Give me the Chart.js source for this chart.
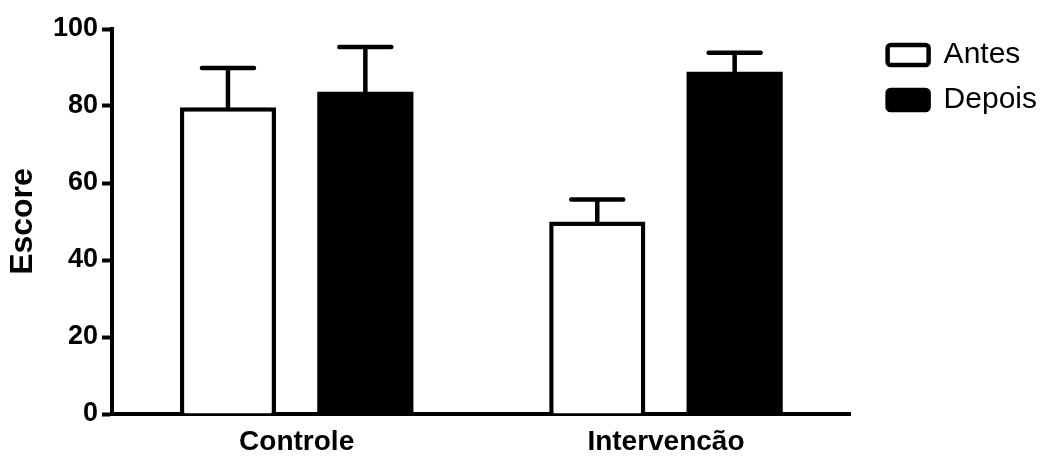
<!DOCTYPE html>
<html>
<head>
<meta charset="utf-8">
<script src="https://cdn.jsdelivr.net/npm/chart.js@4.4.1/dist/chart.umd.min.js"></script>
<style>
  html, body { margin: 0; padding: 0; background: #fff; }
  #wrap { width: 1055px; height: 456px; }
</style>
</head>
<body>
<div id="wrap"><canvas id="chart"></canvas></div>
<script>
const categories = ['Controle', 'Intervencão']
const antes = [79.7, 50]
const antesErr = [10.2, 5.7]
const depois = [83.7, 88.9]
const depoisErr = [11.6, 4.9]
const yTicks = [0, 20, 40, 60, 80, 100]

const FONT = '"Liberation Sans", Arial, sans-serif'

// upper error bars with caps
const errorBars = {
  id: 'errorBars',
  afterDatasetsDraw(chart) {
    const ctx = chart.ctx
    const y = chart.scales.y
    ctx.save()
    ctx.strokeStyle = '#000'
    ctx.lineWidth = 4.5
    ctx.lineCap = 'round'
    chart.data.datasets.forEach((ds, di) => {
      const meta = chart.getDatasetMeta(di)
      meta.data.forEach((bar, i) => {
        const top = y.getPixelForValue(ds.data[i] + ds.errors[i])
        ctx.beginPath()
        ctx.moveTo(bar.x, bar.y)
        ctx.lineTo(bar.x, top)
        ctx.moveTo(bar.x - 26, top)
        ctx.lineTo(bar.x + 26, top)
        ctx.stroke()
      })
    })
    ctx.restore()
  }
}

// nudge legend away from the plot
const legendShift = {
  id: 'legendShift',
  afterLayout(chart) {
    const lg = chart.legend
    const dx = chart.chartArea.right + 22 - lg.left
    lg.left += dx
    lg.right += dx
    lg.top -= 4
  }
}

new Chart(document.getElementById('chart'), {
  type: 'bar',
  data: {
    labels: categories,
    datasets: [
      { label: 'Antes', data: antes, errors: antesErr, backgroundColor: '#fff', borderColor: '#000', borderWidth: 4.5 },
      { label: 'Depois', data: depois, errors: depoisErr, backgroundColor: '#000', borderColor: '#000', borderWidth: 0 }
    ]
  },
  options: {
    responsive: true,
    maintainAspectRatio: false,
    animation: false,
    categoryPercentage: 0.744,
    barPercentage: 0.70,
    layout: { padding: { top: 29, right: 30, left: 0, bottom: 0 } },
    plugins: {
      tooltip: { enabled: false },
      legend: {
        position: 'right',
        align: 'start',
        labels: {
          color: '#000',
          font: { family: FONT, size: 30 },
          boxWidth: 41,
          boxHeight: 20,
          padding: 15,
          useBorderRadius: true,
          borderRadius: 3,
          generateLabels: chart => Chart.defaults.plugins.legend.labels.generateLabels(chart)
            .map(l => ({ ...l, lineWidth: 4.5, strokeStyle: '#000' }))
        }
      }
    },
    scales: {
      x: {
        grid: { display: true, drawOnChartArea: false, drawTicks: false },
        border: { display: true, color: '#000', width: 4 },
        ticks: { color: '#000', font: { family: FONT, size: 28, weight: 'bold' }, padding: 11 },
        afterFit: s => { s.height = 42 }
      },
      y: {
        min: 0,
        max: 100,
        afterBuildTicks: s => { s.ticks = yTicks.map(v => ({ value: v })) },
        grid: { drawOnChartArea: false, drawTicks: true, tickLength: 10, tickWidth: 4, tickColor: '#000' },
        border: { display: true, color: '#000', width: 4 },
        ticks: { color: '#000', font: { family: FONT, size: 27, weight: 'bold' }, padding: 4 },
        title: { display: true, text: 'Escore', color: '#000', font: { family: FONT, size: 32, weight: 'bold' }, padding: { top: 4, bottom: 4 } },
        afterFit: s => { s.width = 112 }
      }
    }
  },
  plugins: [errorBars, legendShift]
})
</script>
</body>
</html>
